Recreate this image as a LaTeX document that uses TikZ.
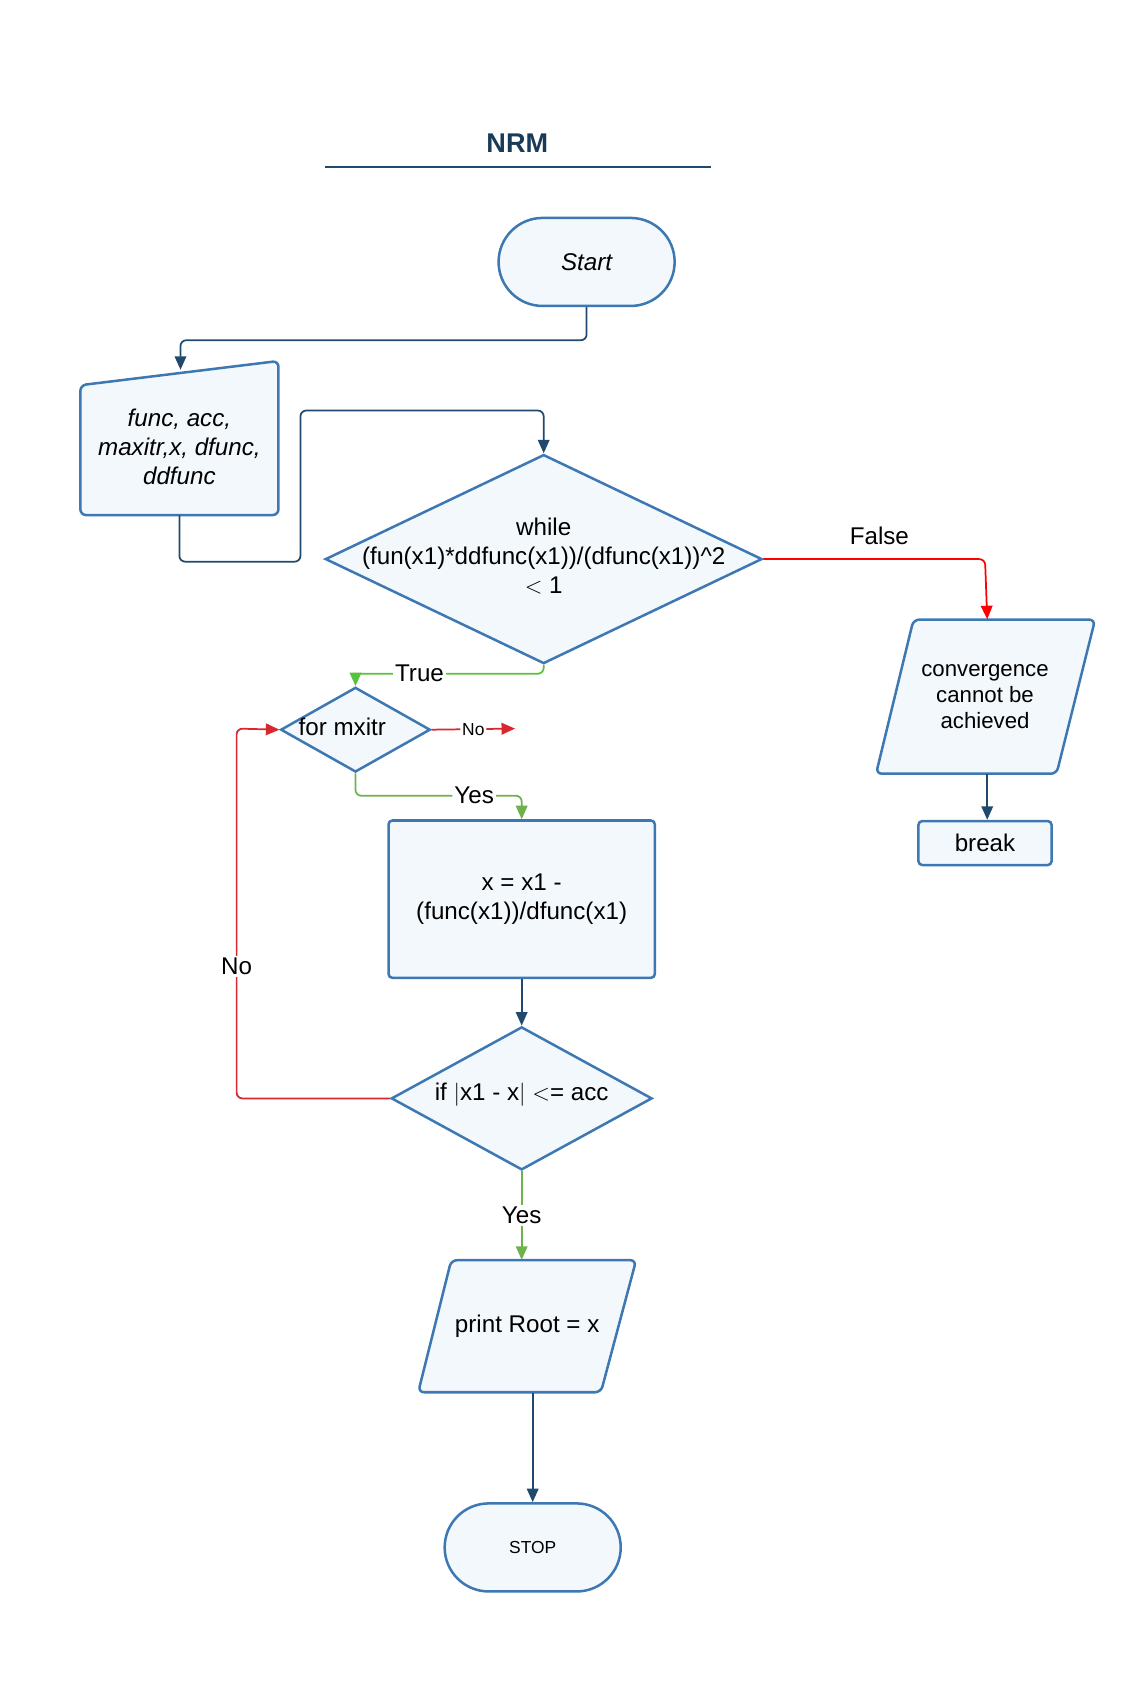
\documentclass[tikz,border=0pt]{standalone}
\usepackage{fontspec}
\setmainfont{Liberation Sans}
\usetikzlibrary{shapes.geometric,arrows.meta,positioning}
\definecolor{edgeblue}{HTML}{3D78B2}
\definecolor{fillblue}{HTML}{F3F8FC}
\definecolor{darkline}{HTML}{1F4A6E}
\definecolor{redline}{HTML}{D9262F}
\definecolor{greenline}{HTML}{6DB34B}
\begin{document}
\begin{tikzpicture}[x=0.02cm,y=-0.02cm,>={Triangle[length=7pt,width=6pt]},font=\fontsize{12.5}{15}\selectfont]
\tikzset{
  box/.style={draw=edgeblue,fill=fillblue,line width=1.3pt},
  term/.style={box,rounded corners=0.8cm,minimum width=3.2cm,minimum height=1.6cm},
  proc/.style={box,rounded corners=2pt,inner sep=0pt},
  dia/.style={box,diamond,inner sep=0pt},
  frame/.style={inner sep=0pt,align=center},
  flow/.style={->,draw=darkline,line width=0.9pt,rounded corners=3pt},
  noflow/.style={->,draw=redline,line width=0.9pt,rounded corners=3pt},
  yesflow/.style={->,draw=greenline,line width=0.9pt,rounded corners=3pt},
  lbl/.style={fill=white,inner sep=1pt}
}
\useasboundingbox (0,0) rectangle (1024,1551);
% title
\node[font=\fontsize{14}{16}\selectfont\bfseries,text=darkline!80!black] (title) at (470,130) {NRM};
\draw[darkline,line width=1pt] (295,152) -- (646,152);
% shapes
\node[term] (start) at (533,238) {\itshape Start};
\draw[box,rounded corners=3pt] (73,350) -- (253,328) -- (253,468) -- (73,468) -- cycle;
\node[frame,minimum width=3.6cm,minimum height=2.8cm,font=\fontsize{12.5}{15}\selectfont\itshape] (input) at (163,398) {\\[3pt]func, acc,\\maxitr,x, dfunc,\\ddfunc};
\node[dia,minimum width=7.94cm,minimum height=3.8cm] (while) at (494,508) {};
\node[align=center] (whiletext) at (494,505) {while\\(fun(x1)*ddfunc(x1))/(dfunc(x1))\^{}2\\$<$ 1};
\draw[box,rounded corners=3pt] (830,563) -- (995,563) -- (960,703) -- (796,703) -- cycle;
\node[frame,minimum width=3.98cm,minimum height=2.8cm,font=\fontsize{11.5}{13.5}\selectfont] (conv) at (895,633) {convergence\\cannot be\\achieved};
\node[proc,minimum width=2.42cm,minimum height=0.8cm] (brk) at (895,766) {break};
\node[dia,minimum width=2.72cm,minimum height=1.54cm] (loop) at (323,663) {};
\node (looptext) at (311,660) {for mxitr};
\coordinate (loopend) at (468,662);
\node[proc,minimum width=4.84cm,minimum height=2.86cm,align=center] (update) at (474,817) {x = x1 -\\(func(x1))/dfunc(x1)};
\node[dia,minimum width=4.74cm,minimum height=2.6cm] (check) at (474,998) {};
\node (checktext) at (474,995) {if $|$x1 - x$|$ $<$= acc};
\draw[box,rounded corners=3pt] (410,1145) -- (578,1145) -- (546,1265) -- (380,1265) -- cycle;
\node[frame,minimum width=3.96cm,minimum height=2.4cm] (print) at (479,1205) {print Root = x};
\node[term,font=\fontsize{9}{11}\selectfont] (stop) at (484,1406) {STOP};
% connectors
\draw[flow] (start.south) -- ++(0,30) -| (164,336);
\draw[flow] (input.south) -- ++(0,42) -| (273,373) -| (while.north);
\draw[noflow,draw=red] (while.east) -- (895,508) -- (conv.north -| 897,0);
\node (false) at (799,487) {False};
\draw[flow] (conv.south -| 897,0) -- (brk.north -| 897,0);
\draw[yesflow,draw=greenline!80!green] (while.south) -- ++(0,8) -| (loop.north) node[lbl,pos=0.33] {True};
\draw[noflow] (loop.east) -- (loopend) node[lbl,midway,font=\fontsize{9}{11}\selectfont] {No};
\draw[yesflow] (loop.south) |- (420,723) -| (update.north) node[lbl,pos=0.1] {Yes};
\draw[flow] (update.south) -- (check.north);
\draw[noflow] (check.west) -| (215,662) -- (loop.west);
\node[lbl] (nolbl) at (215,878) {No};
\draw[yesflow] (check.south) -- (print.north -| check.south) node[lbl,midway] {Yes};
\draw[flow] (print.south -| stop.north) -- (stop.north);
\end{tikzpicture}
\end{document}
